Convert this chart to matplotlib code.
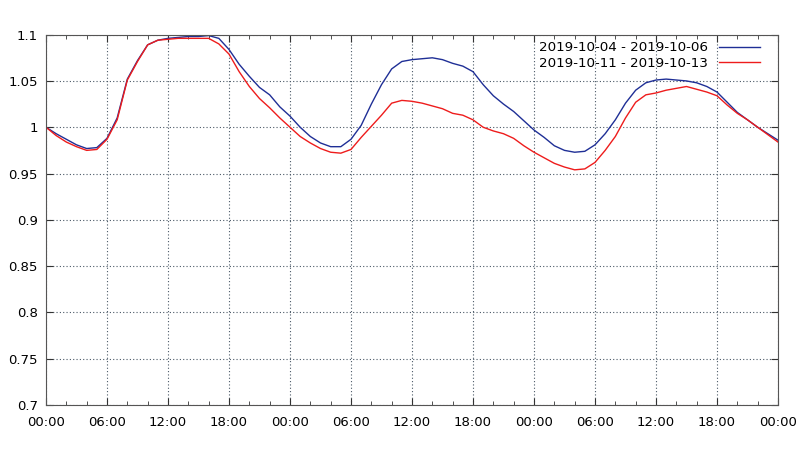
import numpy as np
import matplotlib
matplotlib.use("Agg")
import matplotlib.pyplot as plt
from matplotlib.ticker import MultipleLocator

# hours since start of each 3-day window
hours = list(range(0, 73))

week1 = [1.000, 0.993, 0.987, 0.981, 0.977, 0.978, 0.988, 1.010, 1.052, 1.072,
         1.089, 1.094, 1.096, 1.097, 1.098, 1.098, 1.099, 1.096, 1.084, 1.068,
         1.055, 1.043, 1.035, 1.022, 1.012, 1.000, 0.990, 0.983, 0.979, 0.979,
         0.987, 1.002, 1.025, 1.046, 1.063, 1.071, 1.073, 1.074, 1.075, 1.073,
         1.069, 1.066, 1.060, 1.046, 1.034, 1.025, 1.017, 1.007, 0.997, 0.989,
         0.980, 0.975, 0.973, 0.974, 0.981, 0.993, 1.008, 1.026, 1.040, 1.048,
         1.051, 1.052, 1.051, 1.050, 1.048, 1.044, 1.038, 1.027, 1.016, 1.008,
         1.000, 0.993, 0.986]

week2 = [1.000, 0.991, 0.984, 0.979, 0.975, 0.976, 0.987, 1.008, 1.051, 1.071,
         1.089, 1.094, 1.095, 1.096, 1.096, 1.096, 1.096, 1.090, 1.079, 1.060,
         1.044, 1.031, 1.021, 1.010, 1.000, 0.990, 0.983, 0.977, 0.973, 0.972,
         0.976, 0.989, 1.001, 1.013, 1.026, 1.029, 1.028, 1.026, 1.023, 1.020,
         1.015, 1.013, 1.008, 1.000, 0.996, 0.993, 0.988, 0.980, 0.973, 0.967,
         0.961, 0.957, 0.954, 0.955, 0.962, 0.975, 0.990, 1.010, 1.027, 1.035,
         1.037, 1.040, 1.042, 1.044, 1.041, 1.038, 1.034, 1.024, 1.015, 1.008,
         1.000, 0.992, 0.984]

labels = ["2019-10-04 - 2019-10-06", "2019-10-11 - 2019-10-13"]
xticks = list(range(0, 73, 6))
xticklabels = ["%02d:00" % (h % 24) for h in xticks]
yticks = [0.7, 0.75, 0.8, 0.85, 0.9, 0.95, 1.0, 1.05, 1.1]
yticklabels = ["0.7", "0.75", "0.8", "0.85", "0.9", "0.95", "1", "1.05", "1.1"]

fig = plt.figure(figsize=(8, 4.5), dpi=100)
ax = fig.add_axes([0.0575, 0.1, 0.915, 0.823])

ax.plot(hours, week1, color="#1f2f96", lw=1.0, label=labels[0])
ax.plot(hours, week2, color="#ee1c1c", lw=1.0, label=labels[1])

ax.set_xlim(0, 72)
ax.set_ylim(0.7, 1.1)
ax.set_xticks(xticks)
ax.set_xticklabels(xticklabels)
ax.xaxis.set_minor_locator(MultipleLocator(2))
ax.set_yticks(yticks)
ax.set_yticklabels(yticklabels)

ax.grid(True, which="major", ls=(0, (1, 2)), color="#4a5866", lw=0.8)
ax.tick_params(which="both", direction="in", top=True, right=True, labelsize=9.5, colors="#333333")
ax.tick_params(which="major", length=5, labelcolor="black")
ax.tick_params(which="minor", length=3)
ax.tick_params(axis="x", pad=8)
ax.tick_params(axis="y", pad=6)
for s in ax.spines.values():
    s.set_color("#555555")

ax.legend(loc="upper right", frameon=False, markerfirst=False, fontsize=9.7,
          handlelength=3.0, borderaxespad=0.1, labelspacing=0.2,
          bbox_to_anchor=(0.984, 1.0))

fig.savefig("out.png", dpi=100)
